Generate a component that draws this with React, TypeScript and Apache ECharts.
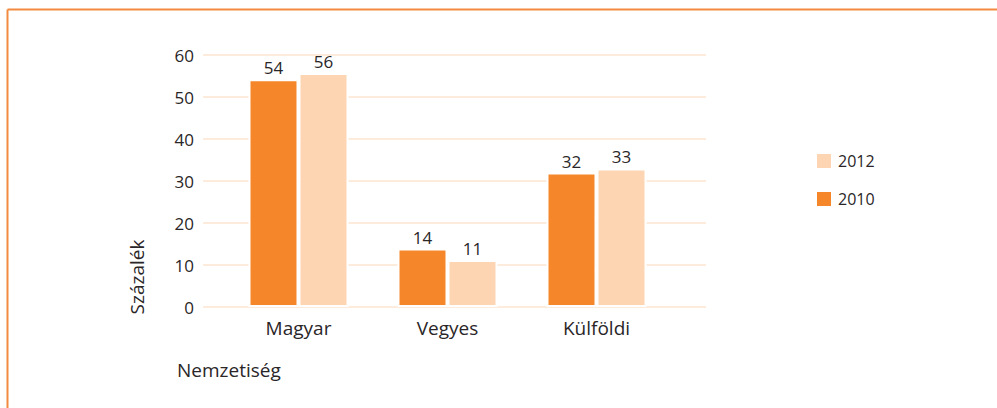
import React, { useEffect, useRef } from "react";
import * as echarts from "echarts";

const categories = ["Magyar", "Vegyes", "Külföldi"];
const series2010 = [54.2, 13.9, 32.0];
const series2012 = [55.7, 11.2, 33.0];
const yTicks = { min: 0, max: 60, interval: 10 };
const yAxisName = "Százalék";
const xAxisName = "Nemzetiség";

const DARK = "#F5862A";
const LIGHT = "#FDD5B2";
const TEXT = "#2a2627";
const FONT = "'Open Sans', Lato, sans-serif";

export default function App() {
  const ref = useRef<HTMLDivElement>(null);
  useEffect(() => {
    if (!ref.current) return;
    const chart = echarts.init(ref.current, null, { renderer: "svg" });
    const label = {
      show: true,
      position: "top",
      distance: 3,
      fontSize: 17,
      fontFamily: FONT,
      color: TEXT,
      formatter: (p: any) => String(Math.round(p.value)),
    };
    chart.setOption({
      animation: false,
      backgroundColor: "#ffffff",
      textStyle: { fontFamily: FONT },
      grid: [
        { left: 203, right: 291, top: 55, bottom: 101 },
        { left: 224, width: 447, top: 55, bottom: 101 },
      ],
      xAxis: [
        { type: "value", gridIndex: 0, show: false, min: 0, max: 1 },
        {
          type: "category",
          gridIndex: 1,
          data: categories,
          axisLine: { show: false },
          axisTick: { show: false },
          axisLabel: { fontSize: 19, color: TEXT, margin: 11, fontFamily: FONT },
        },
      ],
      yAxis: [
        {
          type: "value",
          gridIndex: 0,
          min: yTicks.min,
          max: yTicks.max,
          interval: yTicks.interval,
          axisLine: { show: false },
          axisTick: { show: false },
          axisLabel: { fontSize: 17, color: TEXT, margin: 9, fontFamily: FONT },
          splitLine: { lineStyle: { color: "#FCE4D1", width: 1.5 } },
        },
        {
          type: "value",
          gridIndex: 1,
          min: yTicks.min,
          max: yTicks.max,
          interval: yTicks.interval,
          show: false,
          splitLine: { show: false },
        },
      ],
      legend: {
        data: ["2012", "2010"],
        orient: "vertical",
        left: 810,
        top: 147,
        itemWidth: 16,
        itemHeight: 16,
        itemGap: 20,
        icon: "rect",
        textStyle: { fontSize: 16, color: TEXT, fontFamily: FONT, padding: [0, 0, 0, 1] },
      },
      series: [
        {
          name: "2010",
          type: "bar",
          xAxisIndex: 1,
          yAxisIndex: 1,
          data: series2010,
          barWidth: 50,
          barGap: "0%",
          itemStyle: { color: DARK, borderColor: "#ffffff", borderWidth: 2 },
          label,
        },
        {
          name: "2012",
          type: "bar",
          xAxisIndex: 1,
          yAxisIndex: 1,
          data: series2012,
          barWidth: 50,
          barGap: "0%",
          itemStyle: { color: LIGHT, borderColor: "#ffffff", borderWidth: 2 },
          label,
        },
      ],
      graphic: [
        {
          type: "line",
          shape: { x1: 7.5, y1: 9.5, x2: 997, y2: 9.5 },
          style: { stroke: "#F28B40", lineWidth: 2 },
        },
        {
          type: "line",
          shape: { x1: 7.5, y1: 9.5, x2: 7.5, y2: 408 },
          style: { stroke: "#F28B40", lineWidth: 2 },
        },
        {
          type: "text",
          x: 137,
          y: 277,
          rotation: Math.PI / 2,
          style: {
            text: yAxisName,
            fontSize: 19,
            fontFamily: FONT,
            fill: TEXT,
            align: "center",
            verticalAlign: "middle",
          },
        },
        {
          type: "text",
          x: 177,
          y: 370,
          style: {
            text: xAxisName,
            fontSize: 19,
            fontFamily: FONT,
            fill: TEXT,
            align: "left",
            verticalAlign: "middle",
          },
        },
      ],
    });
    return () => chart.dispose();
  }, []);
  return (
    <div
      ref={ref}
      style={{ position: "fixed", left: 0, top: 0, width: 997, height: 408 }}
    />
  );
}
